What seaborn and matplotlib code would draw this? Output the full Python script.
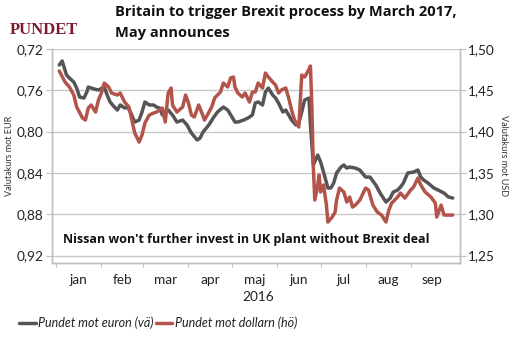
import numpy as np
import pandas as pd
import matplotlib
matplotlib.use('Agg')
import matplotlib.pyplot as plt
import seaborn as sns
from matplotlib.ticker import FixedLocator, FuncFormatter

sns.set_theme(style='white')
plt.rcParams['font.family'] = ['Lato', 'DejaVu Sans']

# ---- data (days after 1 Jan 2016, rates) ----
eur_day = [2, 4, 7, 9, 12, 14, 16, 19, 21, 22, 26, 29, 33, 35, 37, 40, 42, 44, 47, 49, 51, 54, 57, 59,
           61, 64, 67, 69, 71, 73, 77, 80, 83, 87, 90, 93, 97, 99, 101, 105, 108, 111, 115, 118, 121,
           123, 125, 129, 132, 135, 137, 139, 142, 144, 146, 149, 151, 153, 156, 158, 160, 162, 165,
           167, 169, 171, 174, 175, 177, 180, 182, 184, 187, 189, 191, 193, 196, 198, 200, 202, 206,
           209, 213, 216, 220, 223, 227, 230, 232, 235, 237, 239, 242, 246, 249, 251, 253, 256, 260,
           263, 267, 270, 273]
eur_rate = [0.7355, 0.7316, 0.7452, 0.7481, 0.7520, 0.7578, 0.7665, 0.7675, 0.7616, 0.7568, 0.7587,
            0.7597, 0.7568, 0.7646, 0.7713, 0.7762, 0.7791, 0.7742, 0.7771, 0.7762, 0.7810, 0.7907,
            0.7888, 0.7810, 0.7713, 0.7742, 0.7742, 0.7762, 0.7771, 0.7839, 0.7791, 0.7839, 0.7907,
            0.7888, 0.7936, 0.8014, 0.8081, 0.8062, 0.8004, 0.7936, 0.7868, 0.7810, 0.7762, 0.7791,
            0.7859, 0.7907, 0.7907, 0.7888, 0.7868, 0.7839, 0.7723, 0.7713, 0.7742, 0.7616, 0.7578,
            0.7646, 0.7675, 0.7723, 0.7810, 0.7791, 0.7839, 0.7888, 0.7936, 0.7917, 0.7810, 0.7694,
            0.7675, 0.7936, 0.8323, 0.8227, 0.8294, 0.8391, 0.8546, 0.8546, 0.8498, 0.8401, 0.8343,
            0.8323, 0.8353, 0.8343, 0.8353, 0.8372, 0.8440, 0.8440, 0.8517, 0.8595, 0.8682, 0.8643,
            0.8585, 0.8566, 0.8537, 0.8498, 0.8401, 0.8391, 0.8372, 0.8440, 0.8469, 0.8498, 0.8546,
            0.8566, 0.8595, 0.8633, 0.8643]

usd_day = [2, 6, 9, 12, 14, 18, 20, 22, 24, 27, 29, 31, 33, 36, 38, 42, 44, 47, 50, 52, 54, 57, 59,
           61, 64, 67, 69, 73, 75, 77, 79, 80, 83, 87, 89, 91, 93, 95, 98, 100, 102, 104, 107, 109,
           113, 115, 118, 120, 122, 123, 125, 128, 130, 133, 135, 137, 139, 142, 144, 146, 149, 151,
           153, 155, 158, 160, 162, 164, 167, 169, 171, 173, 175, 176, 177, 178, 180, 181, 182, 184,
           186, 187, 190, 192, 193, 195, 198, 200, 202, 204, 206, 209, 213, 215, 218, 221, 224, 227,
           229, 231, 235, 237, 240, 244, 246, 249, 251, 254, 258, 261, 262, 265, 267, 270, 273]
usd_rate = [1.4734, 1.4600, 1.4540, 1.4443, 1.4298, 1.4165, 1.4140, 1.4286, 1.4322, 1.4237, 1.4383,
            1.4467, 1.4588, 1.4540, 1.4467, 1.4443, 1.4467, 1.4358, 1.4298, 1.4140, 1.3983, 1.3874,
            1.3959, 1.4104, 1.4201, 1.4225, 1.4237, 1.4286, 1.4116, 1.4467, 1.4528, 1.4322, 1.4237,
            1.4298, 1.4443, 1.4346, 1.4201, 1.4177, 1.4322, 1.4237, 1.4140, 1.4201, 1.4298, 1.4407,
            1.4479, 1.4588, 1.4540, 1.4649, 1.4661, 1.4540, 1.4467, 1.4419, 1.4467, 1.4358, 1.4479,
            1.4479, 1.4588, 1.4528, 1.4709, 1.4661, 1.4600, 1.4564, 1.4467, 1.4504, 1.4528, 1.4407,
            1.4262, 1.4140, 1.4056, 1.4685, 1.4661, 1.4722, 1.4794, 1.4286, 1.3559, 1.3172, 1.3354,
            1.3475, 1.3269, 1.3354, 1.3111, 1.2906, 1.2966, 1.3027, 1.3172, 1.3317, 1.3269, 1.3148,
            1.3208, 1.3087, 1.3111, 1.3172, 1.3317, 1.3293, 1.3111, 1.3027, 1.2990, 1.2906, 1.3051,
            1.3136, 1.3208, 1.3257, 1.3196, 1.3293, 1.3329, 1.3438, 1.3354, 1.3269, 1.3208, 1.3136,
            1.2966, 1.3111, 1.2990, 1.2990, 1.2990]

months = ['jan', 'feb', 'mar', 'apr', 'maj', 'jun', 'jul', 'aug', 'sep']
left_ticks = [0.72, 0.76, 0.80, 0.84, 0.88, 0.92]
right_ticks = [1.25, 1.30, 1.35, 1.40, 1.45, 1.50]
year_label = '2016'
title_lines = ['Britain to trigger Brexit process by March 2017,', 'May announces']
note = "Nissan won't further invest in UK plant without Brexit deal"
series_names = ['Pundet mot euron (vä)', 'Pundet mot dollarn (hö)']

grey = '#555555'
red = '#b3544b'
start = pd.Timestamp('2016-01-01')

eur_df = pd.DataFrame({'date': start + pd.to_timedelta(eur_day, unit='D'), 'rate': eur_rate})
usd_df = pd.DataFrame({'date': start + pd.to_timedelta(usd_day, unit='D'), 'rate': usd_rate})

W, H = 514, 344
fig = plt.figure(figsize=(W / 100, H / 100), dpi=100)
ax = fig.add_axes([52 / W, 1 - 263 / H, (460 - 52) / W, (263 - 49) / H])
ax2 = ax.twinx()

sns.lineplot(data=eur_df, x='date', y='rate', ax=ax, color=grey, lw=2.5, label=series_names[0], legend=False)
sns.lineplot(data=usd_df, x='date', y='rate', ax=ax2, color=red, lw=2.5, label=series_names[1], legend=False)

ax.set_ylim(0.9272, 0.72)
ax2.set_ylim(1.2410, 1.50)
ax.set_xlim(start - pd.Timedelta(days=3), start + pd.Timedelta(days=278))

comma = FuncFormatter(lambda v, p: f'{v:.2f}'.replace('.', ','))
ax.yaxis.set_major_locator(FixedLocator(left_ticks))
ax.yaxis.set_major_formatter(comma)
ax2.yaxis.set_major_locator(FixedLocator(right_ticks))
ax2.yaxis.set_major_formatter(comma)

month_starts = [pd.Timestamp(2016, m, 1) for m in range(1, 10)]
month_mids = [ms + (pd.Timestamp(2016, m + 1, 1) - ms) / 2 for m, ms in zip(range(1, 10), month_starts)]
ax.set_xticks(matplotlib.dates.date2num(month_mids))
ax.set_xticklabels(months)
ax.xaxis.set_minor_locator(FixedLocator(matplotlib.dates.date2num(month_starts)))
ax.tick_params(axis='x', which='major', length=0, labelsize=9.8, colors='#222222', pad=8)
ax.tick_params(axis='x', which='minor', length=3, width=0.8, color='#c0c0c0', bottom=True)

spine_c = '#bfbfbf'
for a in (ax, ax2):
    for s in a.spines.values():
        s.set_color(spine_c)
        s.set_linewidth(1)
    a.spines['top'].set_visible(False)
    a.set_xlabel('')

ax.tick_params(axis='y', which='major', length=4, width=0.8, color=spine_c, labelsize=9.8,
               labelcolor='#222222', left=True, pad=2)
ax2.tick_params(axis='y', which='major', length=4, width=0.8, color=spine_c, labelsize=9.8,
                labelcolor='#222222', right=True, pad=2)

ax.yaxis.grid(True, color='#c8c8c8', lw=1)
ax.set_axisbelow(True)

ax.set_ylabel('Valutakurs mot EUR', fontsize=6.5, color='#333333', labelpad=2)
ax2.set_ylabel('Valutakurs mot USD', fontsize=6.5, color='#333333', rotation=270, labelpad=9)

bold_font = ['Open Sans', 'DejaVu Sans']
fig.text(258 / W, 1 - 297 / H, year_label, ha='center', va='center', fontsize=9.8, color='#222222')
fig.text(115 / W, 1 - 12 / H, title_lines[0], ha='left', va='center', fontsize=10.5, fontweight='bold',
         family=bold_font, color='#111111')
fig.text(115 / W, 1 - 33 / H, title_lines[1], ha='left', va='center', fontsize=10.5, fontweight='bold',
         family=bold_font, color='#111111')
fig.text(10 / W, 1 - 30 / H, 'PUNDET', ha='left', va='center', fontsize=12, fontweight='bold',
         family='Liberation Serif', color='#7b1c2e')
fig.text(63 / W, 1 - 239 / H, note, ha='left', va='center', fontsize=9.0, fontweight='bold',
         family=bold_font, color='#111111')

h1, l1 = ax.get_legend_handles_labels()
h2, l2 = ax2.get_legend_handles_labels()
fig.legend(h1 + h2, l1 + l2, loc='center left', bbox_to_anchor=(8 / W, 1 - 323 / H), ncol=2,
           frameon=False, handlelength=1.3, handletextpad=0.2, columnspacing=0.2,
           prop={'style': 'italic', 'size': 9}, labelcolor='#222222')

fig.savefig('out.png', dpi=100)
